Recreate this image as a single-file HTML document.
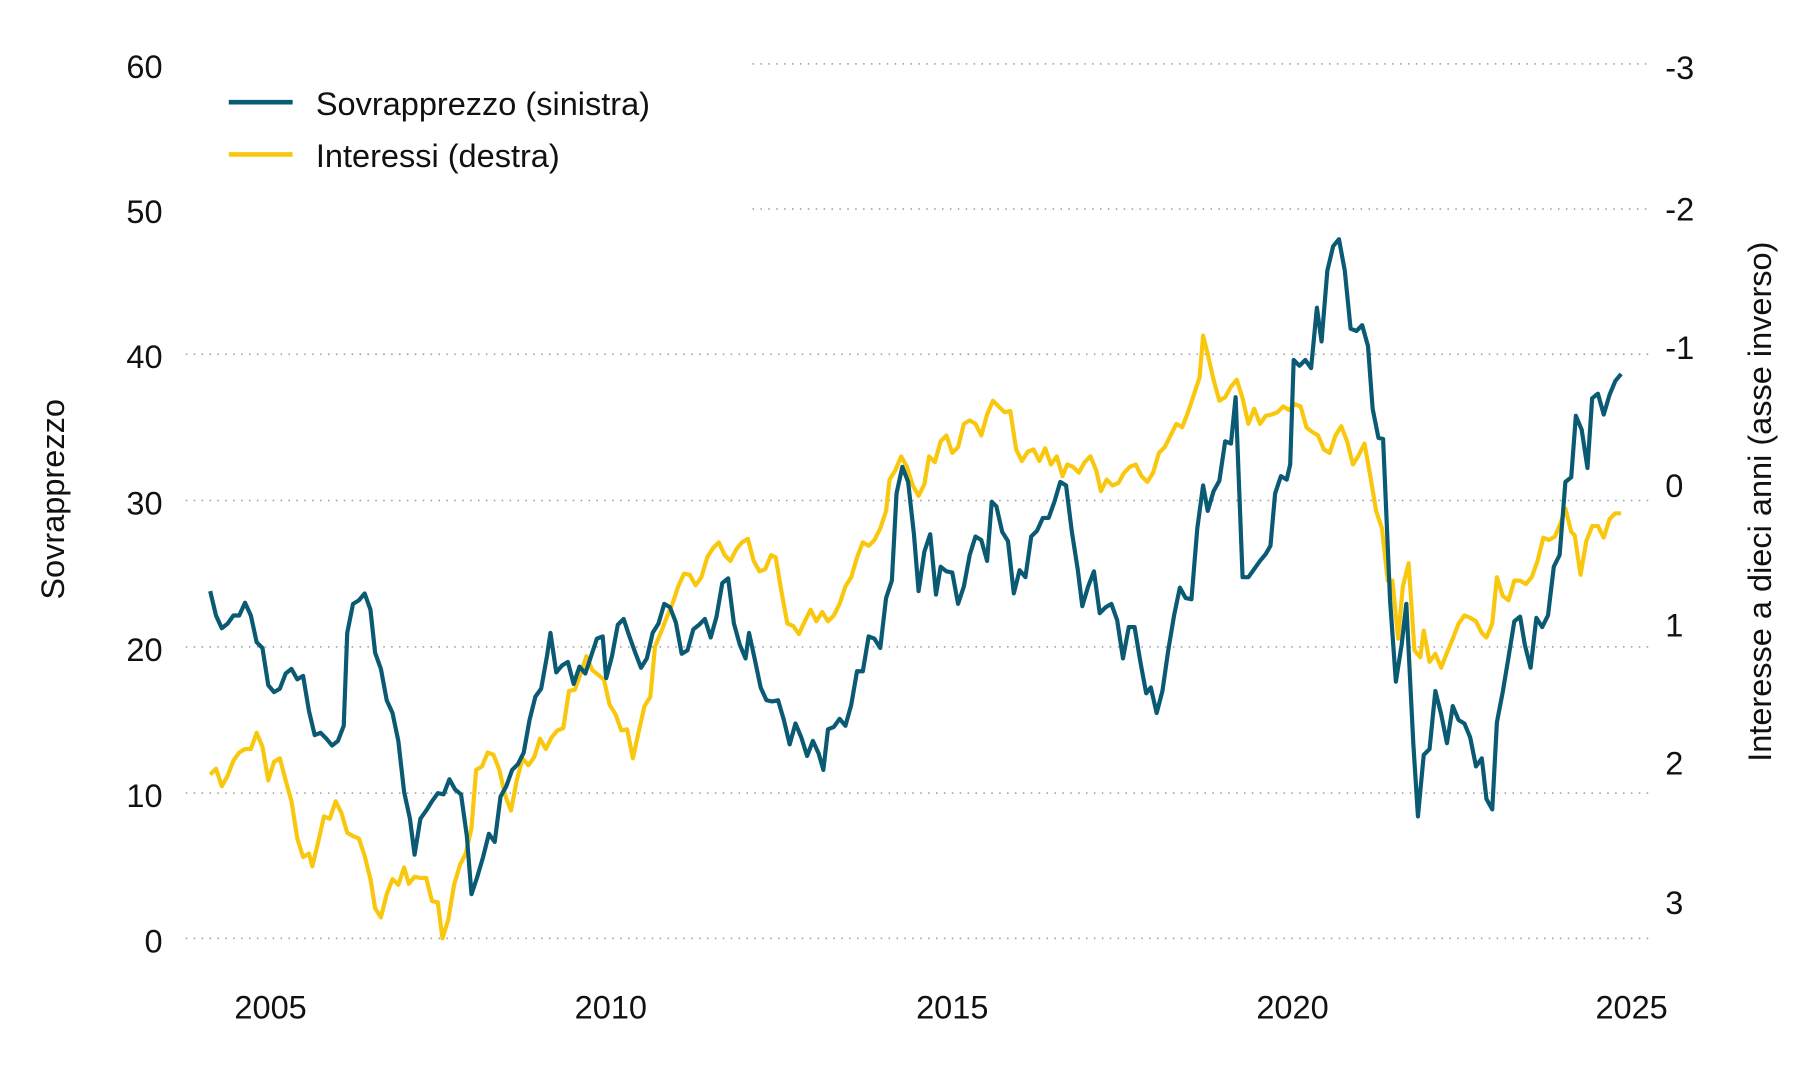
<!DOCTYPE html>
<html><head><meta charset="utf-8"><style>
html,body{margin:0;padding:0;background:#fff;}
svg{display:block;}
text{font-family:"Liberation Sans",sans-serif;fill:#111;}
</style></head><body>
<svg width="1800" height="1080" viewBox="0 0 1550 930" xmlns="http://www.w3.org/2000/svg">
<g stroke="#999" stroke-width="1.3" stroke-dasharray="1.3 5.5">
<line x1="648" y1="55" x2="1420" y2="55"/>
<line x1="648" y1="180" x2="1420" y2="180"/>
<line x1="160" y1="305" x2="1420" y2="305"/>
<line x1="160" y1="431" x2="1420" y2="431"/>
<line x1="160" y1="557" x2="1420" y2="557"/>
<line x1="160" y1="683" x2="1420" y2="683"/>
<line x1="160" y1="808" x2="1420" y2="808"/>
</g>
<g font-size="28" text-anchor="end">
<text x="140" y="67">60</text><text x="140" y="192">50</text><text x="140" y="317">40</text>
<text x="140" y="443">30</text><text x="140" y="569">20</text><text x="140" y="695">10</text><text x="140" y="820">0</text>
</g>
<g font-size="28" text-anchor="start">
<text x="1434" y="68">-3</text><text x="1434" y="190">-2</text><text x="1434" y="309">-1</text>
<text x="1434" y="428">0</text><text x="1434" y="548">1</text><text x="1434" y="667">2</text><text x="1434" y="787">3</text>
</g>
<g font-size="28" text-anchor="middle">
<text x="233" y="877">2005</text><text x="526" y="877">2010</text><text x="820" y="877">2015</text>
<text x="1113" y="877">2020</text><text x="1405" y="877">2025</text>
</g>
<text font-size="28" text-anchor="middle" transform="translate(55,430) rotate(-90)">Sovrapprezzo</text>
<text font-size="28" text-anchor="middle" transform="translate(1525,432) rotate(-90)">Interesse a dieci anni (asse inverso)</text>
<line x1="197" y1="88" x2="252" y2="88" stroke="#0a5a73" stroke-width="4"/>
<line x1="197" y1="133" x2="252" y2="133" stroke="#f9c80e" stroke-width="4"/>
<text x="272" y="99" font-size="28">Sovrapprezzo (sinistra)</text>
<text x="272" y="144" font-size="28">Interessi (destra)</text>
<polyline fill="none" stroke="#f9c80e" stroke-width="3.6" stroke-linejoin="round" points="181,667 186,662 191,677 196,668 201,655 206,648 211,645 216,645 221,631 226,643 231,672 236,656 241,653 246,672 251,690 256,722 261,738 266,735 269,746 274,725 279,703 284,705 289,690 294,700 299,717 304,720 309,722 314,737 319,757 323,782 328,790 333,770 338,757 343,762 348,747 352,761 357,755 362,756 367,756 372,776 377,777 381,808 386,792 391,762 396,745 401,735 406,713 410,663 415,660 420,648 425,650 430,663 435,685 440,698 445,672 450,653 455,659 460,652 465,636 470,645 475,635 480,629 485,627 490,595 495,594 500,580 505,565 510,577 515,581 520,585 525,607 530,615 535,629 540,628 545,653 550,630 555,608 560,600 564,557 569,545 574,532 579,520 584,505 589,494 594,495 599,504 604,497 609,480 614,472 619,467 624,478 629,483 634,473 639,467 644,464 649,483 654,492 659,490 664,478 668,480 673,510 678,537 683,539 688,546 693,535 698,525 703,535 708,527 713,535 718,530 723,520 728,505 733,497 738,480 743,467 748,470 753,465 758,455 763,440 766,413 771,405 776,393 781,402 786,418 791,427 796,417 800,393 805,398 810,380 815,375 820,390 825,385 830,365 835,362 840,365 845,375 850,357 855,345 860,350 865,355 870,354 875,387 880,397 885,389 890,387 895,397 900,386 905,400 910,393 915,410 919,400 924,402 929,407 934,398 939,393 944,405 948,423 953,413 958,418 963,416 968,407 973,402 978,400 983,410 988,415 993,407 998,390 1003,385 1008,375 1013,365 1018,368 1023,355 1028,340 1033,325 1036,289 1040,305 1045,327 1050,345 1055,342 1060,333 1065,327 1070,343 1075,365 1080,352 1085,365 1090,358 1095,357 1100,355 1105,350 1110,353 1115,348 1120,350 1125,368 1130,372 1135,375 1140,387 1145,390 1150,375 1155,367 1160,380 1165,400 1170,392 1175,382 1180,410 1185,440 1190,455 1195,500 1199,500 1204,550 1208,505 1213,485 1218,560 1223,566 1226,543 1231,570 1236,563 1241,575 1246,562 1251,550 1256,537 1261,530 1266,532 1271,535 1276,545 1280,549 1285,537 1289,497 1294,513 1299,517 1304,500 1309,500 1314,503 1319,497 1324,483 1329,463 1334,465 1339,462 1344,450 1348,438 1353,458 1356,461 1361,495 1366,466 1371,453 1376,453 1381,463 1386,447 1391,442 1396,442"/>
<polyline fill="none" stroke="#0a5a73" stroke-width="3.6" stroke-linejoin="round" points="181,509 186,530 191,541 196,537 201,530 206,530 211,519 216,530 221,553 226,558 231,590 236,596 241,593 246,580 251,576 256,585 261,582 266,612 271,633 276,631 281,636 286,642 291,638 296,625 299,545 304,520 309,517 314,511 319,525 323,562 328,576 333,603 338,614 343,638 348,682 353,705 357,736 362,705 367,698 372,690 377,683 382,684 387,671 392,680 397,684 402,720 406,770 411,755 416,738 421,718 426,725 431,686 436,677 441,663 446,658 451,648 456,620 461,600 466,593 471,565 474,545 479,579 484,573 489,570 494,589 499,574 504,580 509,565 514,550 519,548 522,584 527,565 532,538 537,533 542,548 547,562 552,575 557,567 562,545 567,537 572,520 577,523 582,536 587,563 592,560 597,542 602,538 607,533 612,549 617,531 622,502 627,498 632,537 637,555 642,567 645,545 650,568 655,592 660,603 665,604 670,603 675,620 680,641 685,623 690,635 695,651 700,638 705,649 709,663 713,628 718,626 723,619 728,625 733,607 738,578 743,578 748,548 753,550 758,558 763,515 768,500 772,425 777,402 782,415 787,460 791,509 796,475 801,460 806,512 810,488 815,492 820,493 825,520 830,505 835,478 840,462 845,465 850,483 854,432 858,436 863,458 868,466 873,511 878,491 883,497 888,462 893,457 898,446 903,446 908,432 913,415 918,418 923,458 928,490 932,522 937,505 942,492 947,528 952,523 957,520 962,534 967,567 972,540 977,540 982,570 987,597 991,592 996,614 1001,595 1006,560 1011,530 1016,506 1021,515 1026,516 1031,455 1036,418 1040,440 1045,423 1050,414 1055,380 1060,382 1064,342 1070,497 1075,497 1080,490 1085,483 1090,477 1094,470 1098,425 1103,410 1108,413 1111,400 1114,310 1119,315 1124,310 1129,317 1134,265 1138,294 1143,233 1148,212 1153,206 1158,233 1163,283 1168,285 1173,280 1178,298 1182,352 1187,377 1191,378 1197,517 1202,587 1207,555 1211,520 1214,580 1217,640 1221,703 1226,650 1231,645 1236,595 1241,615 1246,640 1251,608 1256,620 1261,623 1266,635 1271,660 1276,653 1280,688 1285,697 1289,622 1294,596 1299,566 1304,535 1309,531 1313,555 1318,575 1323,532 1328,540 1333,530 1338,488 1343,478 1348,415 1353,411 1357,358 1362,370 1367,403 1371,343 1376,339 1381,357 1386,340 1391,328 1396,322"/>
</svg>
</body></html>
